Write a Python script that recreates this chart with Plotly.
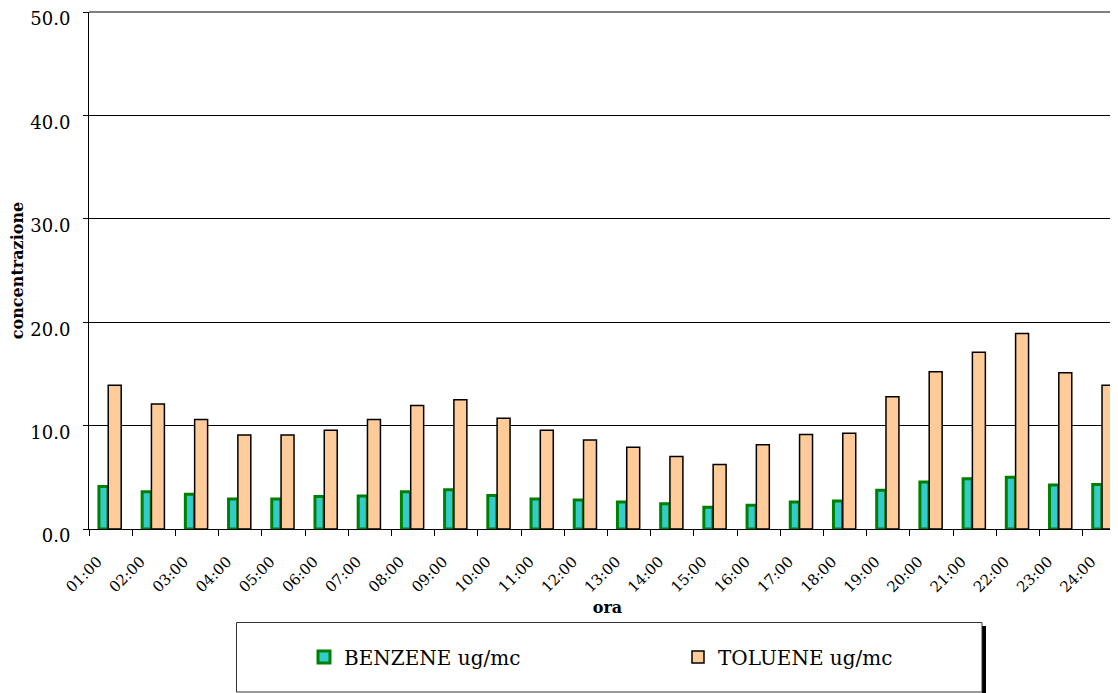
import plotly.graph_objects as go

categories = ["01:00", "02:00", "03:00", "04:00", "05:00", "06:00", "07:00", "08:00",
              "09:00", "10:00", "11:00", "12:00", "13:00", "14:00", "15:00", "16:00",
              "17:00", "18:00", "19:00", "20:00", "21:00", "22:00", "23:00", "24:00"]
benzene = [4.1, 3.6, 3.35, 2.9, 2.9, 3.15, 3.2, 3.6, 3.8, 3.25, 2.9, 2.8,
           2.6, 2.45, 2.1, 2.3, 2.6, 2.7, 3.75, 4.55, 4.85, 5.0, 4.25, 4.3]
toluene = [13.9, 12.1, 10.6, 9.1, 9.1, 9.55, 10.6, 11.95, 12.5, 10.7, 9.55, 8.6,
           7.9, 7.0, 6.25, 8.15, 9.15, 9.25, 12.8, 15.2, 17.1, 18.9, 15.1, 13.9]
y_ticks = [0, 10, 20, 30, 40, 50]
y_ticklabels = ["0.0", "10.0", "20.0", "30.0", "40.0", "50.0"]

FONT = "DejaVu Serif"
OFF = 8  # page body margin
W, H = 1118, 693
L, R, T, B = 81, 0, 4, 172
pw, ph = W - L - R, H - T - B

fig = go.Figure()
fig.add_trace(go.Bar(
    x=categories, y=benzene, name="BENZENE ug/mc",
    marker=dict(color="#33CCCC", line=dict(color="#008000", width=3)),
    offset=-0.27, width=0.21,
))
fig.add_trace(go.Bar(
    x=categories, y=toluene, name="TOLUENE ug/mc",
    marker=dict(color="#FFCC99", line=dict(color="#000000", width=1.5)),
    offset=-0.055, width=0.3,
))

def px_x(p):
    return (p - OFF - L) / pw

def px_y(p):
    return (H - B - (p - OFF)) / ph

# top border line of plot area (at the 50 gridline)
fig.add_shape(type="line", xref="paper", yref="paper", x0=0, x1=1, y0=1, y1=1,
              line=dict(color="black", width=1), layer="above")
# legend box and its shadow
fig.add_shape(type="rect", xref="paper", yref="paper",
              x0=px_x(982), x1=px_x(986), y0=px_y(700), y1=px_y(626),
              fillcolor="black", line=dict(width=0), layer="above")
fig.add_shape(type="rect", xref="paper", yref="paper",
              x0=px_x(236.5), x1=px_x(982), y0=px_y(692), y1=px_y(622.5),
              fillcolor="white", line=dict(color="#333333", width=1), layer="above")

fig.update_layout(
    width=W, height=H,
    margin=dict(l=L, r=R, t=T, b=B, autoexpand=False),
    paper_bgcolor="white", plot_bgcolor="white",
    barmode="overlay",
    font=dict(family=FONT, color="black", size=16),
    showlegend=True,
    legend=dict(orientation="h", x=px_x(304), xanchor="left",
                y=px_y(657), yanchor="middle",
                font=dict(family=FONT, size=20, color="black"),
                bgcolor="rgba(0,0,0,0)", borderwidth=0,
                entrywidth=329, traceorder="normal"),
    xaxis=dict(
        type="category", range=[-0.5, 23.5], automargin=False,
        showline=True, linecolor="black", linewidth=1,
        ticks="outside", tickson="boundaries", ticklen=6, tickcolor="black",
        tickangle=-45, tickfont=dict(family=FONT, size=15),
        ticklabelstandoff=17, ticklabelshift=-13,
        title=dict(text="<b>ora</b>", font=dict(family=FONT, size=16), standoff=6),
        showgrid=False,
    ),
    yaxis=dict(
        range=[0, 50], tickvals=y_ticks, ticktext=y_ticklabels, automargin=False,
        showline=True, linecolor="black", linewidth=1,
        ticks="outside", ticklen=5, tickcolor="black",
        tickfont=dict(family=FONT, size=18),
        ticklabelstandoff=9, ticklabelshift=7, ticklabeloverflow="allow",
        showgrid=True, gridcolor="black", gridwidth=1,
        zeroline=False,
        title=dict(text="<b>concentrazione</b>", font=dict(family=FONT, size=16), standoff=9),
    ),
)

fig.write_html("out.html")
